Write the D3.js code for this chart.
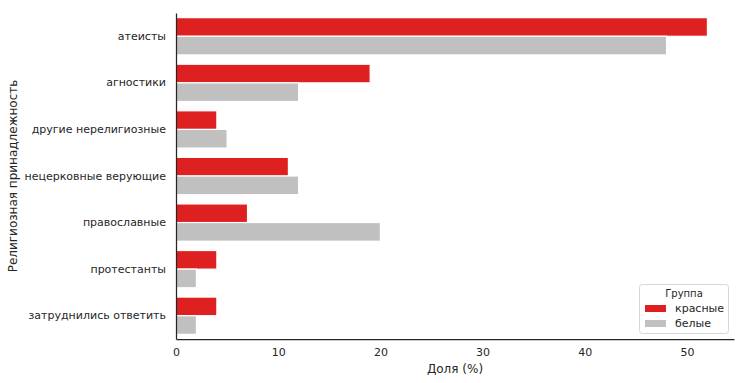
<!DOCTYPE html>
<html><head><meta charset="utf-8">
<script src="https://cdn.jsdelivr.net/npm/d3@7"></script>
<style>body{margin:0;background:#fff}svg text{font-family:"DejaVu Sans",sans-serif;fill:#262626}</style>
</head><body><svg id="c" width="747" height="383"></svg>
<script>
const categories = ["атеисты","агностики","другие нерелигиозные","нецерковные верующие","православные","протестанты","затруднились ответить"];
const seriesNames = ["красные","белые"];
const redValues = [52,19,4,11,7,4,4];
const whiteValues = [48,12,5,12,20,2,2];
const xTicks = [0,10,20,30,40,50];
const colors = ["#df2020","#c0c0c0"];

const svg = d3.select("#c");
const m = {l:176, r:734, t:13, b:339};
const x = d3.scaleLinear().domain([0, 52*1.05]).range([m.l, m.r]);
const y = d3.scaleBand().domain(categories).range([m.t, m.b]).paddingInner(0.2).paddingOuter(0.1);
const sub = d3.scaleBand().domain(seriesNames).range([0, y.bandwidth()]);
const series = [redValues, whiteValues];

series.forEach((vals, si) => {
  svg.append("g").selectAll("rect").data(categories).join("rect")
    .attr("x", x(0))
    .attr("y", (d) => y(d) + sub(seriesNames[si]))
    .attr("width", (d,i) => x(vals[i]) - x(0))
    .attr("height", sub.bandwidth())
    .attr("fill", colors[si])
    .attr("stroke", "#fff").attr("stroke-width", 1.2);
});

// axes
const xa = svg.append("g").attr("transform", `translate(0,${m.b})`)
  .call(d3.axisBottom(x).tickValues(xTicks).tickSize(0).tickPadding(9));
xa.select(".domain").attr("stroke","#262626").attr("stroke-width",1.25);
xa.selectAll("text").attr("font-size","11px").style("fill","#262626");

const ya = svg.append("g").attr("transform", `translate(${m.l},0)`)
  .call(d3.axisLeft(y).tickSize(0).tickPadding(10));
ya.select(".domain").attr("stroke","#262626").attr("stroke-width",1.25);
ya.selectAll("text").attr("font-size","11px").style("fill","#262626");

svg.append("text").attr("x", (m.l+m.r)/2).attr("y", 373).attr("text-anchor","middle")
  .attr("font-size","12px").text("Доля (%)");
svg.append("text").attr("transform", `translate(17,${(m.t+m.b)/2}) rotate(-90)`)
  .attr("text-anchor","middle").attr("font-size","12px").text("Религиозная принадлежность");

// legend
const lg = svg.append("g");
lg.append("rect").attr("x",639.5).attr("y",284.5).attr("width",89).attr("height",49)
  .attr("rx",3).attr("fill","#fff").attr("fill-opacity",0.8).attr("stroke","#d6d6d6");
lg.append("text").attr("x",684).attr("y",297).attr("text-anchor","middle").attr("font-size","10px").text("Группа");
seriesNames.forEach((n,i) => {
  lg.append("rect").attr("x",645).attr("y",305+i*15).attr("width",21).attr("height",7).attr("fill",colors[i]);
  lg.append("text").attr("x",675).attr("y",312+i*15).attr("font-size","11px").text(n);
});
</script></body></html>
